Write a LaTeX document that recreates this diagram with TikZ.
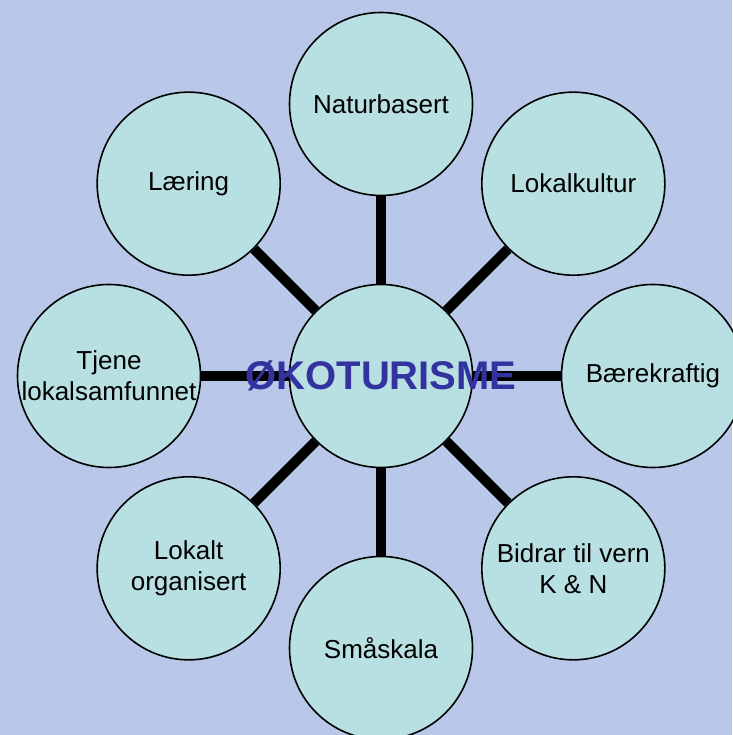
\documentclass[tikz,border=0pt]{standalone}
\usepackage{fontspec}
\setmainfont{Liberation Sans}
\newfontfamily\titlefont{Liberation Sans Bold}
\usetikzlibrary{calc}
\definecolor{bgblue}{RGB}{185,199,232}
\definecolor{bubble}{RGB}{184,224,226}
\definecolor{titleblue}{RGB}{51,51,160}
\tikzset{
  bubblenode/.style={circle, draw=black, line width=1.6pt, fill=bubble, minimum size=183pt, inner sep=0pt, align=center, font=\fontsize{26}{31}\selectfont},
  conn/.style={line width=10pt, black},
  titletext/.style={font=\titlefont\fontsize{40}{44}\selectfont, inner sep=0pt, text=titleblue}
}
\begin{document}
\begin{tikzpicture}[x=1pt,y=1pt]
\fill[bgblue] (0,0) rectangle (732,735);
\useasboundingbox (0,0) rectangle (732,735);
\coordinate (o) at (381,359);
\node[bubblenode] (c) at (o) {};
\node[bubblenode] (n1) at ($(o)+(90:272)$) {Naturbasert};
\node[bubblenode] (n2) at ($(o)+(45:272)$) {Lokalkultur};
\node[bubblenode] (n3) at ($(o)+(0:272)$) {Bærekraftig};
\node[bubblenode] (n4) at ($(o)+(-45:272)$) {Bidrar til vern\\K \& N};
\node[bubblenode] (n5) at ($(o)+(-90:272)$) {Småskala};
\node[bubblenode] (n6) at ($(o)+(-135:272)$) {Lokalt\\organisert};
\node[bubblenode] (n7) at ($(o)+(180:272)$) {Tjene\\lokalsamfunnet};
\node[bubblenode] (n8) at ($(o)+(135:272)$) {Læring};
\foreach \i in {1,...,8} { \draw[conn] (c) -- (n\i); }
\node[titletext] (title) at (o) {ØKOTURISME};
\end{tikzpicture}
\end{document}
